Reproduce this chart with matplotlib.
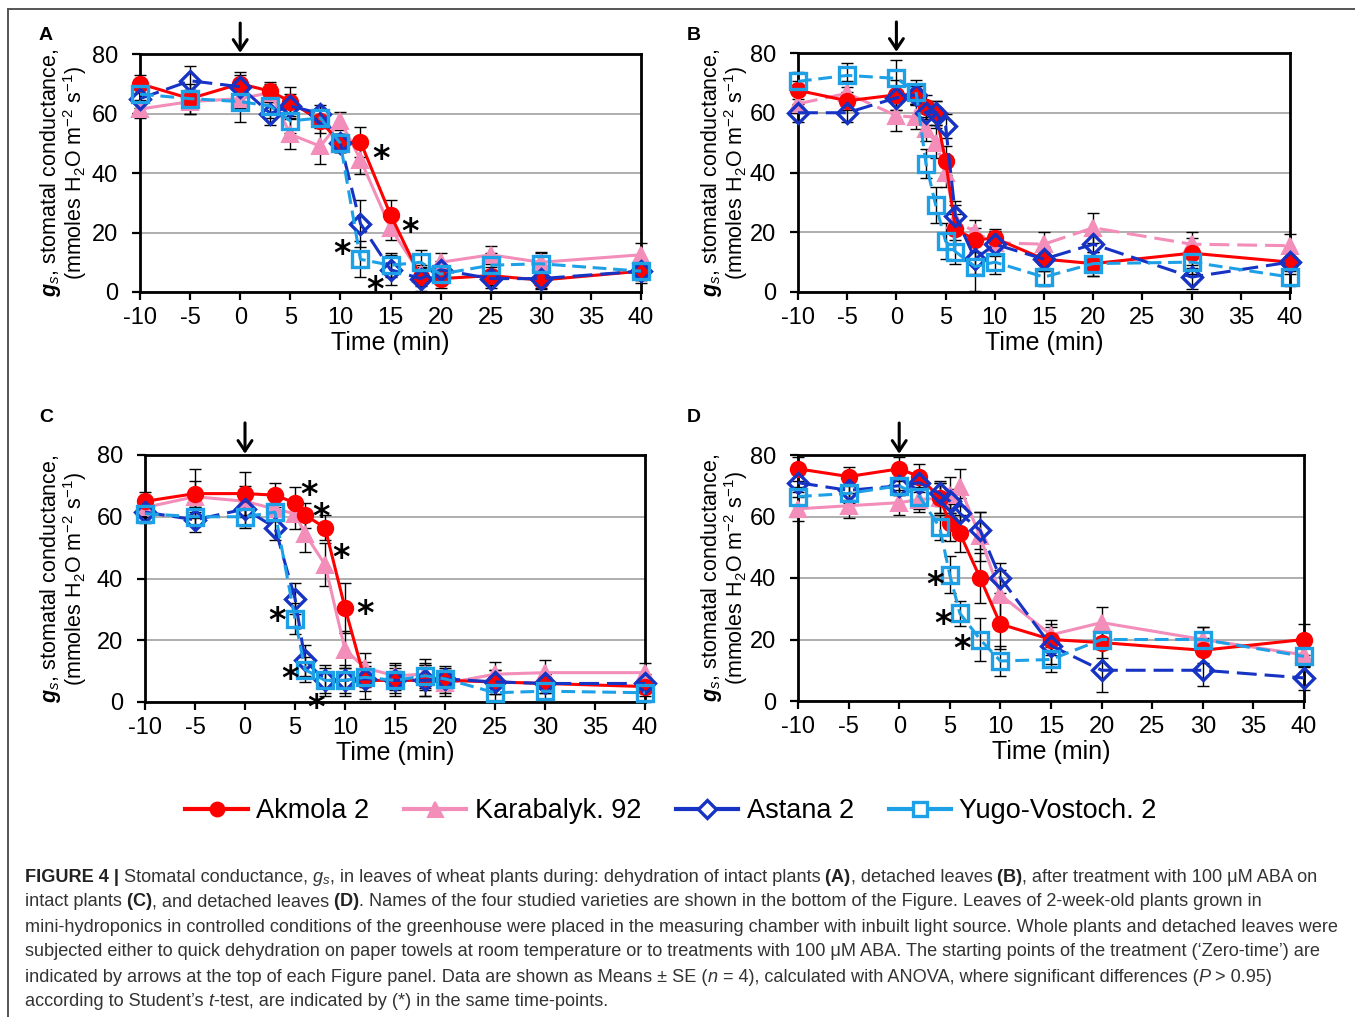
import matplotlib
matplotlib.use('Agg')
import matplotlib.pyplot as plt
from matplotlib.lines import Line2D

plt.rcParams['font.family'] = ['Liberation Sans', 'DejaVu Sans']
plt.rcParams['axes.unicode_minus'] = False
plt.rcParams['mathtext.fontset'] = 'custom'
plt.rcParams['mathtext.rm'] = 'Liberation Sans'
plt.rcParams['mathtext.it'] = 'Liberation Sans:italic'
plt.rcParams['mathtext.bf'] = 'Liberation Sans:bold'
plt.rcParams['mathtext.bfit'] = 'Liberation Sans:bold:italic'

# ---------------- data ----------------
varieties = ["Akmola 2", "Karabalyk. 92", "Astana 2", "Yugo-Vostoch. 2"]
x_ticks = [-10, -5, 0, 5, 10, 15, 20, 25, 30, 35, 40]
y_ticks = [0, 20, 40, 60, 80]

# Panel A: dehydration of intact plants
t_A = [-10, -5, 0, 3, 5, 8, 10, 12, 15, 18, 20, 25, 30, 40]
A_akmola = [70, 65, 70, 67.5, 64, 57.5, 50, 50.5, 26, 5, 4.5, 5.5, 4, 7]
A_karabalyk = [61.5, 64, 65, 67, 53, 49, 57.5, 44.5, 21.5, 6, 10, 12.5, 10, 12.5]
A_astana = [65, 71, 69, 60, 62.5, 60, 50, 23, 7.5, 4.5, 7.5, 4.5, 4.5, 7]
A_yugo = [66.5, 65, 64, 62.5, 57.5, 58.5, 50, 11, 9, 10, 6, 9, 9.5, 7]
A_akmola_se = [3, 3, 3, 3, 5, 4, 3, 5, 5, 3, 3, 3, 3, 4]
A_karabalyk_se = [3, 4, 3, 3, 5, 6, 3, 5, 4, 3, 3, 3, 3, 4]
A_astana_se = [3, 5, 5, 4, 4, 3, 3, 8, 5, 4, 3, 3, 3, 3]
A_yugo_se = [3, 5, 7, 4, 4, 3, 3, 6, 4, 4, 3, 4, 4, 3]
A_star_t = [14.1, 17.0, 10.2, 13.5]
A_star_v = [47.5, 23.0, 15.5, 3.5]

# Panel B: detached leaves
t_B = [-10, -5, 0, 2, 3, 4, 5, 6, 8, 10, 15, 20, 30, 40]
B_akmola = [67.5, 64, 66, 66, 62, 60, 44, 21, 17.5, 18, 11, 9.5, 13, 10]
B_karabalyk = [63, 66.5, 59, 58.5, 54.5, 50, 40, 24, 20, 16.5, 16, 21.5, 16, 15.5]
B_astana = [60, 60, 65, 66, 60, 60, 55.5, 25.5, 11, 16, 11, 16, 5, 10]
B_yugo = [70.5, 72.5, 71.5, 67, 43, 29, 17, 13.5, 8.5, 10, 5, 9.5, 10, 5]
B_akmola_se = [3, 3, 5, 3, 4, 4, 5, 5, 4, 3, 4, 4, 5, 3]
B_karabalyk_se = [3, 4, 5, 4, 4, 5, 5, 5, 4, 4, 4, 5, 4, 4]
B_astana_se = [3, 3, 4, 3, 4, 4, 4, 5, 5, 4, 4, 4, 4, 4]
B_yugo_se = [3, 4, 6, 4, 5, 6, 6, 4, 8, 4, 3, 4, 4, 3]
B_star_t = []
B_star_v = []

# Panel C: 100 uM ABA on intact plants
t_C = [-10, -5, 0, 3, 5, 6, 8, 10, 12, 15, 18, 20, 25, 30, 40]
C_akmola = [65, 67.5, 67.5, 67, 64.5, 60.5, 56.5, 30.5, 7, 7, 7, 7, 6.5, 6, 5]
C_karabalyk = [63, 66.5, 65, 62.5, 61, 54.5, 44.5, 17, 11, 8.5, 9, 6, 9, 9.5, 9.5]
C_astana = [61.5, 59, 62.5, 56.5, 33.5, 13.5, 7, 7, 7.5, 7, 7, 7.5, 6.5, 6, 6]
C_yugo = [61, 60, 60, 61.5, 27, 10.5, 7, 7, 8, 7, 8.5, 7.5, 3, 3.5, 3]
C_akmola_se = [3, 8, 7, 4, 5, 4, 4, 8, 6, 5, 5, 4, 4, 3, 3]
C_karabalyk_se = [3, 5, 5, 4, 5, 6, 7, 6, 5, 4, 5, 4, 4, 4, 3]
C_astana_se = [3, 4, 6, 4, 5, 5, 5, 5, 4, 4, 5, 4, 4, 3, 3]
C_yugo_se = [3, 3, 3, 3, 5, 4, 4, 4, 3, 3, 4, 3, 3, 3, 3]
C_star_t = [6.4, 7.6, 9.6, 12.0, 3.2, 4.55, 7.1]
C_star_v = [69.5, 62.4, 49.3, 31.2, 29.0, 9.9, 0.6]

# Panel D: 100 uM ABA on detached leaves
t_D = [-10, -5, 0, 2, 4, 5, 6, 8, 10, 15, 20, 30, 40]
D_akmola = [75.5, 73, 75.5, 73, 66, 58, 54.5, 40, 25, 20, 19, 16.5, 20]
D_karabalyk = [62.5, 63.5, 64.5, 65.5, 66, 67, 69.5, 53.5, 34.5, 21.5, 25.5, 20, 15]
D_astana = [71, 68.5, 70, 71, 67.5, 65, 61, 55.5, 40, 18, 10, 10, 7.5]
D_yugo = [66.5, 67.5, 70, 66.5, 56.5, 41, 28.5, 20, 13, 13.5, 20, 20, 14.5]
D_akmola_se = [4, 3, 4, 4, 5, 6, 6, 8, 8, 5, 5, 4, 5]
D_karabalyk_se = [4, 4, 4, 4, 5, 6, 6, 8, 8, 5, 5, 4, 4]
D_astana_se = [3, 3, 3, 3, 4, 4, 5, 6, 5, 6, 7, 5, 4]
D_yugo_se = [3, 3, 3, 4, 4, 6, 4, 7, 5, 4, 3, 4, 3]
D_star_t = [3.54, 4.38, 6.2]
D_star_v = [40.4, 27.7, 19.5]

# ---------------- styles ----------------
RED = '#FF0000'
PINK = '#F38DB9'
DBLUE = '#1633C4'
LBLUE = '#1EA0E6'
styles = [
    dict(color=RED, marker='o', ms=11, mfc=RED, mec=RED, mew=1.5, dashes=None, z=4),
    dict(color=PINK, marker='^', ms=12, mfc=PINK, mec=PINK, mew=1.5, dashes=None, z=3),
    dict(color=DBLUE, marker='D', ms=10, mfc='none', mec=DBLUE, mew=2.4, dashes=(6.5, 2.6), z=5),
    dict(color=LBLUE, marker='s', ms=11, mfc='none', mec=LBLUE, mew=2.4, dashes=(4.5, 2.2), z=6),
]

W, H = 1355, 1017
fig = plt.figure(figsize=(W / 100, H / 100), dpi=100)


def fx(x):
    return x / W


def fy(y):
    return 1 - y / H


def add_axes(l, t, r, b):
    return fig.add_axes([fx(l), fy(b), (r - l) / W, (b - t) / H])


panels = [
    dict(box=(140, 54, 641, 292), letter='A', lpos=(46, 35), ylx=(51, 75),
         t=t_A, vals=[A_akmola, A_karabalyk, A_astana, A_yugo],
         errs=[A_akmola_se, A_karabalyk_se, A_astana_se, A_yugo_se],
         st=A_star_t, sv=A_star_v, pink_dash=None),
    dict(box=(798, 53, 1290, 292), letter='B', lpos=(694, 35), ylx=(712, 736),
         t=t_B, vals=[B_akmola, B_karabalyk, B_astana, B_yugo],
         errs=[B_akmola_se, B_karabalyk_se, B_astana_se, B_yugo_se],
         st=B_star_t, sv=B_star_v, pink_dash=(6.5, 2.6)),
    dict(box=(145, 455, 645, 702), letter='C', lpos=(46, 418), ylx=(51, 75),
         t=t_C, vals=[C_akmola, C_karabalyk, C_astana, C_yugo],
         errs=[C_akmola_se, C_karabalyk_se, C_astana_se, C_yugo_se],
         st=C_star_t, sv=C_star_v, pink_dash=None),
    dict(box=(798, 455, 1304, 701), letter='D', lpos=(694, 418), ylx=(712, 736),
         t=t_D, vals=[D_akmola, D_karabalyk, D_astana, D_yugo],
         errs=[D_akmola_se, D_karabalyk_se, D_astana_se, D_yugo_se],
         st=D_star_t, sv=D_star_v, pink_dash=None),
]

draw_order = [1, 0, 2, 3]

for p in panels:
    l, t, r, b = p['box']
    ax = add_axes(l, t, r, b)
    ax.set_xlim(-10, 40)
    ax.set_ylim(0, 80)
    ax.set_xticks(x_ticks)
    ax.set_yticks(y_ticks)
    ax.yaxis.grid(True, color='#a8a8a8', lw=1.3)
    ax.set_axisbelow(True)
    for s in ax.spines.values():
        s.set_linewidth(2.0)
        s.set_zorder(2.5)
    ax.tick_params(axis='both', direction='out', length=6, width=1.6, labelsize=17)
    ax.tick_params(axis='x', pad=4.5)
    ax.tick_params(axis='y', pad=10)
    ax.set_xlabel('Time (min)', fontsize=18, labelpad=2)

    for i in draw_order:
        ax.errorbar(p['t'], p['vals'][i], yerr=p['errs'][i], fmt='none', ecolor='black',
                    elinewidth=1.0, capsize=4, capthick=1.0, zorder=2, clip_on=False)
    for i in draw_order:
        st = styles[i]
        kw = dict(color=st['color'], lw=2.2, marker=st['marker'], ms=st['ms'],
                  mfc=st['mfc'], mec=st['mec'], mew=st['mew'], zorder=st['z'], clip_on=False)
        line, = ax.plot(p['t'], p['vals'][i], **kw)
        dashes = st['dashes']
        if i == 1 and p['pink_dash'] is not None:
            dashes = p['pink_dash']
        if dashes is not None:
            line.set_dashes(dashes)

    for xs, ys in zip(p['st'], p['sv']):
        ax.annotate('*', xy=(xs, ys), xytext=(0, -13.0), textcoords='offset points',
                    ha='center', va='baseline', fontsize=24, fontweight='bold',
                    family='DejaVu Sans', color='black', zorder=8, annotation_clip=False)

    # arrow marking zero-time
    ax.annotate('', xy=(0, 1.005), xycoords=('data', 'axes fraction'),
                xytext=(0, 1.13), textcoords=('data', 'axes fraction'),
                arrowprops=dict(arrowstyle='->,head_length=0.75,head_width=0.5',
                                color='black', lw=2.2, shrinkA=0, shrinkB=0),
                annotation_clip=False)

    # panel letter
    fig.text(fx(p['lpos'][0]), fy(p['lpos'][1]), p['letter'], fontsize=14, fontweight='bold',
             ha='center', va='center')

    # y label (two lines)
    yc = (t + b) / 2
    fig.text(fx(p['ylx'][0]), fy(yc), r'$\mathbfit{g}_{\mathit{s}}$, stomatal conductance,',
             rotation=90, ha='center', va='center', fontsize=15.5)
    fig.text(fx(p['ylx'][1]), fy(yc), r'(mmoles H$_2$O m$^{-2}$ s$^{-1}$)',
             rotation=90, ha='center', va='center', fontsize=15.5)

# ---------------- legend ----------------
handles = []
for st in styles:
    handles.append(Line2D([], [], color=st['color'], lw=3, marker=st['marker'],
                          ms=st['ms'] * 0.9, mfc=st['mfc'] if st['mfc'] != 'none' else 'white',
                          mec=st['mec'], mew=st['mew']))
fig.legend(handles, varieties, loc='center', bbox_to_anchor=(fx(671), fy(811)), ncol=4,
           frameon=False, handlelength=2.3, handletextpad=0.3, columnspacing=1.3,
           prop=dict(family=['Liberation Sans'], size=19.5))

# ---------------- frame lines ----------------
fig.add_artist(Line2D([fx(8), fx(W)], [fy(8.5), fy(8.5)], color='#555555', lw=1.4))
fig.add_artist(Line2D([fx(8), fx(8)], [fy(8.5), fy(H)], color='#555555', lw=1.4))

# ---------------- caption ----------------
renderer = fig.canvas.get_renderer()
CAP_FS = 13.1
CAP_COL = '#333333'


def runs_line(x, ybase, runs):
    for s, style in runs:
        kw = dict(fontsize=CAP_FS, color=CAP_COL, va='baseline', ha='left')
        dy = 0
        if style == 'b':
            kw['fontweight'] = 'bold'
            kw['color'] = '#222222'
        elif style == 'i':
            kw['fontstyle'] = 'italic'
        elif style == 'sub':
            kw['fontstyle'] = 'italic'
            kw['fontsize'] = CAP_FS * 0.72
            dy = 3
        txt = fig.text(fx(x), fy(ybase + dy), s, **kw)
        bb = txt.get_window_extent(renderer)
        x = bb.x1


cap_lines = [
    [("FIGURE 4 |", 'b'), (" Stomatal conductance,", 'r'), (" g", 'i'), ("s", 'sub'),
     (", in leaves of wheat plants during: dehydration of intact plants", 'r'), (" (A)", 'b'),
     (", detached leaves", 'r'), (" (B)", 'b'), (", after treatment with 100 \u03bcM ABA on", 'r')],
    [("intact plants", 'r'), (" (C)", 'b'), (", and detached leaves", 'r'), (" (D)", 'b'),
     (". Names of the four studied varieties are shown in the bottom of the Figure. Leaves of 2-week-old plants grown in", 'r')],
    [("mini-hydroponics in controlled conditions of the greenhouse were placed in the measuring chamber with inbuilt light source. Whole plants and detached leaves were", 'r')],
    [("subjected either to quick dehydration on paper towels at room temperature or to treatments with 100 \u03bcM ABA. The starting points of the treatment (\u2018Zero-time\u2019) are", 'r')],
    [("indicated by arrows at the top of each Figure panel. Data are shown as Means \u00b1 SE (", 'r'), ("n", 'i'),
     (" = 4), calculated with ANOVA, where significant differences (", 'r'), ("P", 'i'), (" > 0.95)", 'r')],
    [("according to Student\u2019s", 'r'), (" t", 'i'), ("-test, are indicated by (*) in the same time-points.", 'r')],
]
for k, runs in enumerate(cap_lines):
    runs_line(25, 881.5 + 25 * k, runs)

fig.savefig('out.png', dpi=100)
